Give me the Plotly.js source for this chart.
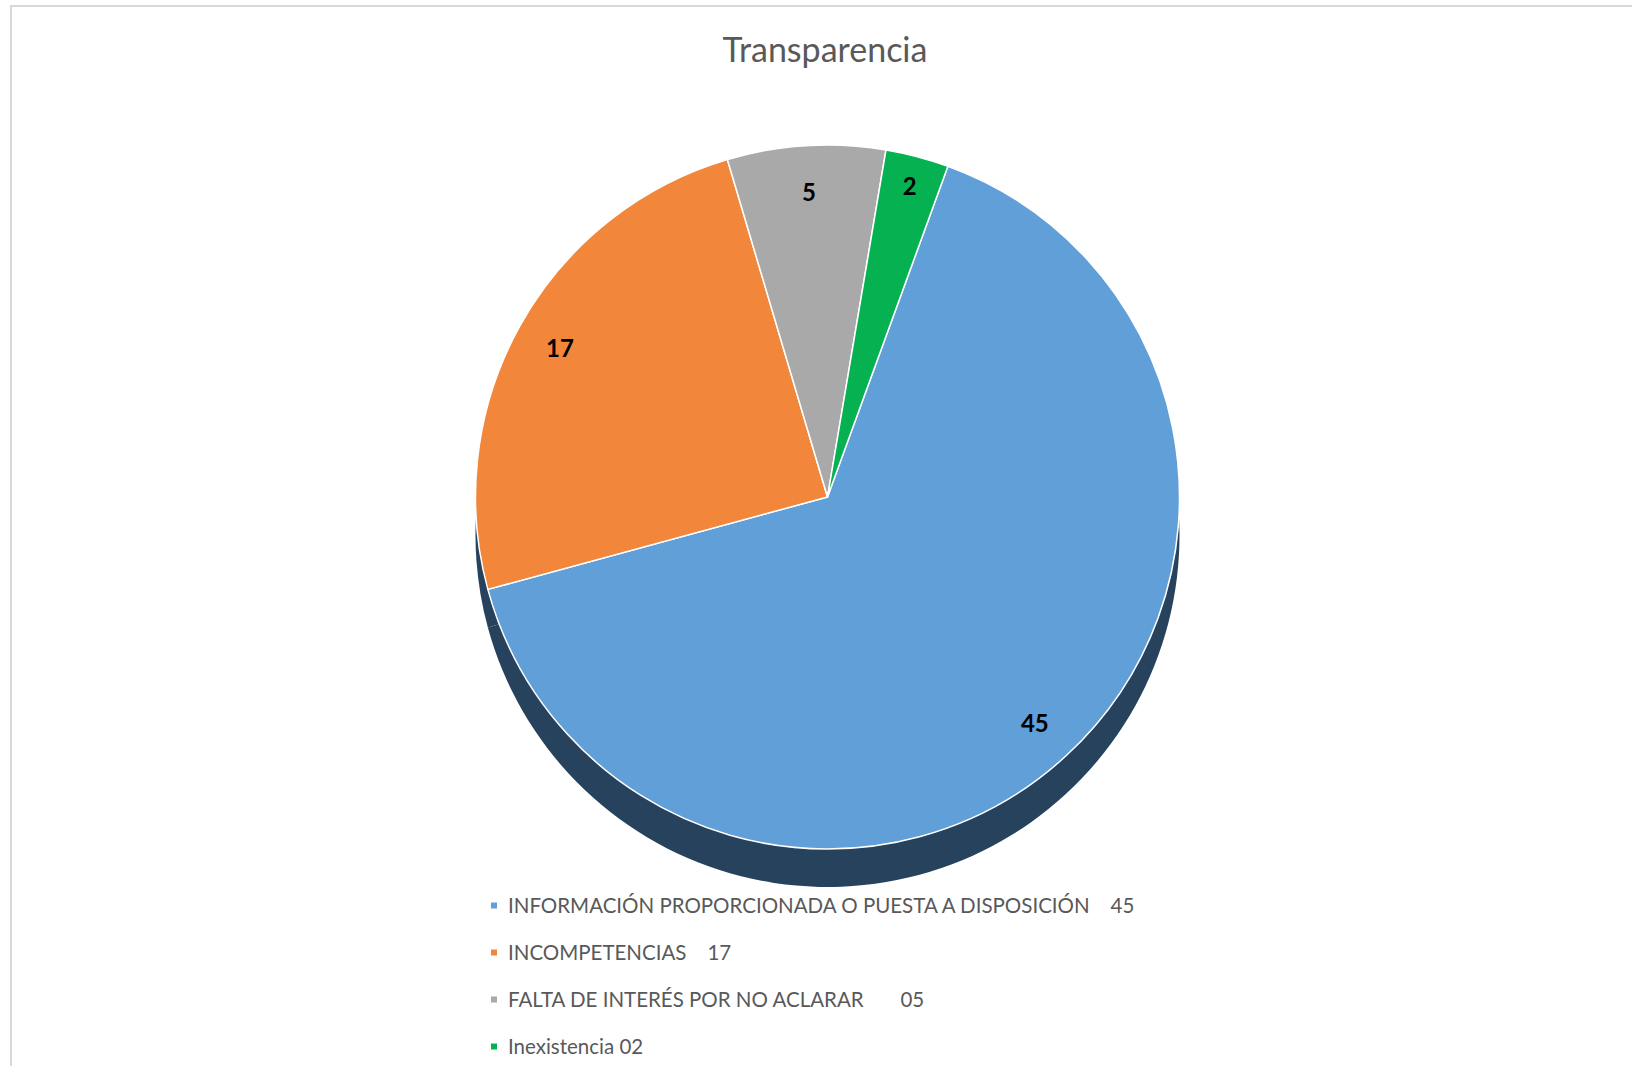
<!DOCTYPE html>
<html>
<head>
<meta charset="utf-8">
<script src="https://cdn.plot.ly/plotly-3.0.1.min.js"></script>
<style>
html,body{margin:0;padding:0;background:#ffffff;overflow:hidden;}
#wrap{position:relative;width:1632px;height:1066px;overflow:hidden;background:#fff;}
#chart{position:absolute;left:0;top:0;width:1632px;height:1120px;}
#frame{position:absolute;left:10px;top:5px;width:1640px;height:1100px;border-left:2px solid #d9d9d9;border-top:2px solid #d9d9d9;pointer-events:none;}
#chart .legendtext{font-size:20.5px !important;}
#chart .legendpie{transform:translate(26px,5.5px) scale(0.5);stroke:none !important;}
</style>
</head>
<body>
<div id="wrap"><div id="chart"></div><div id="frame"></div></div>
<script>
// ---- data ----
const chartTitle = 'Transparencia';
const categories = [
  'INFORMACIÓN PROPORCIONADA O PUESTA A DISPOSICIÓN\u00a0\u00a0\u00a0\u00a045',
  'INCOMPETENCIAS\u00a0\u00a0\u00a0\u00a017',
  'FALTA DE INTERÉS POR NO ACLARAR\u00a0\u00a0\u00a0\u00a0\u00a0\u00a0\u00a005',
  'Inexistencia 02'
];
const values = [45, 17, 5, 2];
const dataLabels = ['45', '17', '5', '2'];
const sliceColors = ['#619fd9', '#f2863a', '#a9a9a9', '#05b150'];
const sideColor = '#27425c';

// ---- layout helpers (geometry, not data) ----
const W = 1632, H = 1120;
const cx = 827.5, cy = 497, R = 352, depth = 38;
const dom = (yc) => ({
  x: [(cx - R) / W, (cx + R) / W],
  y: [(H - yc - R) / H, (H - yc + R) / H]
});
const common = {
  type: 'pie', values: values, labels: categories,
  sort: false, direction: 'clockwise', rotation: 20
};

const sideTrace = Object.assign({}, common, {
  domain: dom(cy + depth),
  marker: {colors: categories.map(() => sideColor), line: {width: 0}},
  textinfo: 'none', hoverinfo: 'skip', showlegend: false
});
const mainTrace = Object.assign({}, common, {
  domain: dom(cy),
  marker: {colors: sliceColors, line: {color: '#ffffff', width: 1.5}},
  textinfo: 'none', hoverinfo: 'label+value', showlegend: true
});
const labelTrace = Object.assign({}, common, {
  domain: dom(cy), hole: 0.74,
  marker: {colors: categories.map(() => 'rgba(0,0,0,0)'), line: {width: 0}},
  text: dataLabels, textinfo: 'text', textposition: 'inside',
  insidetextorientation: 'horizontal',
  insidetextfont: {family: 'Lato', size: 24, color: '#000000', weight: 'bold'},
  hoverinfo: 'skip', showlegend: false
});

const layout = {
  width: W, height: H,
  margin: {l: 0, r: 0, t: 0, b: 0},
  paper_bgcolor: '#ffffff',
  font: {family: 'Lato', color: '#595959'},
  title: {
    text: chartTitle,
    font: {family: 'Lato', size: 34, color: '#595959'},
    x: 825 / W, xanchor: 'center', xref: 'container',
    y: 1 - 50.5 / H, yanchor: 'middle', yref: 'container'
  },
  showlegend: true,
  legend: {
    x: 468 / W, xanchor: 'left',
    y: (H - 871.5) / H, yanchor: 'top',
    orientation: 'v', traceorder: 'normal',
    bgcolor: 'rgba(0,0,0,0)', borderwidth: 0,
    font: {family: 'Lato', size: 33.85, color: '#595959'}
  }
};

Plotly.newPlot('chart', [sideTrace, mainTrace, labelTrace], layout, {displayModeBar: false, staticPlot: false});
</script>
</body>
</html>
